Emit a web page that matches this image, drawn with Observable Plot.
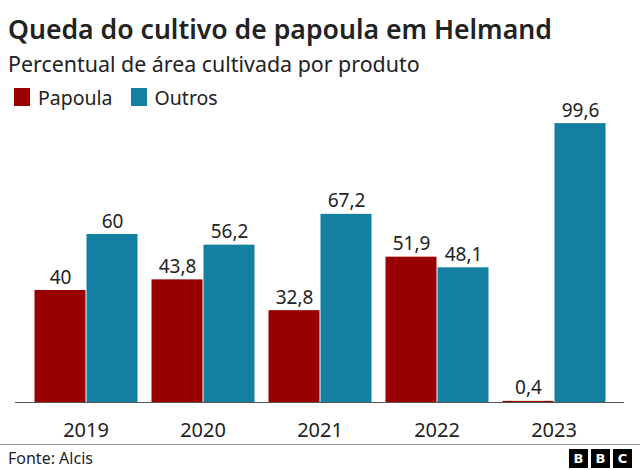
<!DOCTYPE html>
<html>
<head>
<meta charset="utf-8">
<script src="https://cdn.jsdelivr.net/npm/d3@7"></script>
<script src="https://cdn.jsdelivr.net/npm/@observablehq/plot@0.6"></script>
<style>
  html, body { margin: 0; padding: 0; background: #fff; }
  body { width: 640px; height: 470px; position: relative; overflow: hidden; font-family: "Noto Sans", sans-serif; color: #222; }
  #title { position: absolute; left: 8px; top: 12px; font-size: 26.6px; line-height: 34px; font-weight: 600; white-space: nowrap; z-index: 2; }
  #subtitle { position: absolute; left: 8px; top: 50px; font-size: 21.4px; line-height: 28px; white-space: nowrap; z-index: 2; }
  #legend { position: absolute; left: 14px; top: 86px; height: 22px; display: flex; align-items: center; font-size: 19.5px; z-index: 2; }
  .sw { width: 16px; height: 18px; display: inline-block; margin-right: 8px; }
  .item { display: flex; align-items: center; margin-right: 18px; }
  #chart { position: absolute; left: 0; top: 82px; z-index: 1; }
  #footer { position: absolute; left: 0; top: 444px; width: 640px; height: 26px; border-top: 1px solid #999; }
  #source { position: absolute; left: 8px; top: 3px; font-size: 16px; line-height: 20px; }
  #bbc { position: absolute; right: 8px; top: 4px; display: flex; }
  #bbc span { width: 19px; height: 19px; background: #000; color: #fff; font-weight: bold; font-size: 13px; line-height: 19px; text-align: center; margin-left: 3px; font-family: "DejaVu Sans", sans-serif; }
</style>
</head>
<body>
<div id="title">Queda do cultivo de papoula em Helmand</div>
<div id="subtitle">Percentual de área cultivada por produto</div>
<div id="legend"></div>
<div id="chart"></div>
<div id="footer"><div id="source">Fonte: Alcis</div><div id="bbc"><span>B</span><span>B</span><span>C</span></div></div>
<script>
const years = ["2019", "2020", "2021", "2022", "2023"];
const series = ["Papoula", "Outros"];
const papoula = [40, 43.8, 32.8, 51.9, 0.4];
const outros = [60, 56.2, 67.2, 48.1, 99.6];
const colors = ["#990000", "#1380A1"];

const data = years.flatMap((y, i) => [
  {year: y, series: "Papoula", value: papoula[i]},
  {year: y, series: "Outros", value: outros[i]}
]);
const fmt = v => String(v).replace(".", ",");

const legend = document.getElementById("legend");
series.forEach((s, i) => {
  const it = document.createElement("div");
  it.className = "item";
  it.innerHTML = `<span class="sw" style="background:${colors[i]}"></span><span>${s}</span>`;
  legend.appendChild(it);
});

const chart = Plot.plot({
  width: 640,
  height: 362,
  marginTop: 40,
  marginBottom: 42,
  marginLeft: 32,
  marginRight: 33,
  style: {fontFamily: "Noto Sans", fontSize: "19px", color: "#222", background: "transparent", overflow: "visible"},
  fx: {domain: years, paddingInner: 0.106, paddingOuter: 0, label: null},
  x: {domain: series, padding: 0, axis: null},
  y: {domain: [0, 100], axis: null},
  color: {domain: series, range: colors},
  marks: [
    Plot.barY(data, {fx: "year", x: "series", y: "value", fill: "series", insetLeft: 0.5, insetRight: 0.5}),
    Plot.ruleY([0], {stroke: "#555", strokeWidth: 1, insetLeft: -18, insetRight: -18}),
    Plot.text(data, {fx: "year", x: "series", y: "value", text: d => fmt(d.value), lineAnchor: "bottom", dy: -7, fontSize: 19, fill: "#222"}),
    Plot.axisFx({anchor: "bottom", tickSize: 0, tickPadding: 20, fontSize: 20, label: null, fill: "#222"})
  ]
});
document.getElementById("chart").appendChild(chart);
</script>
</body>
</html>
